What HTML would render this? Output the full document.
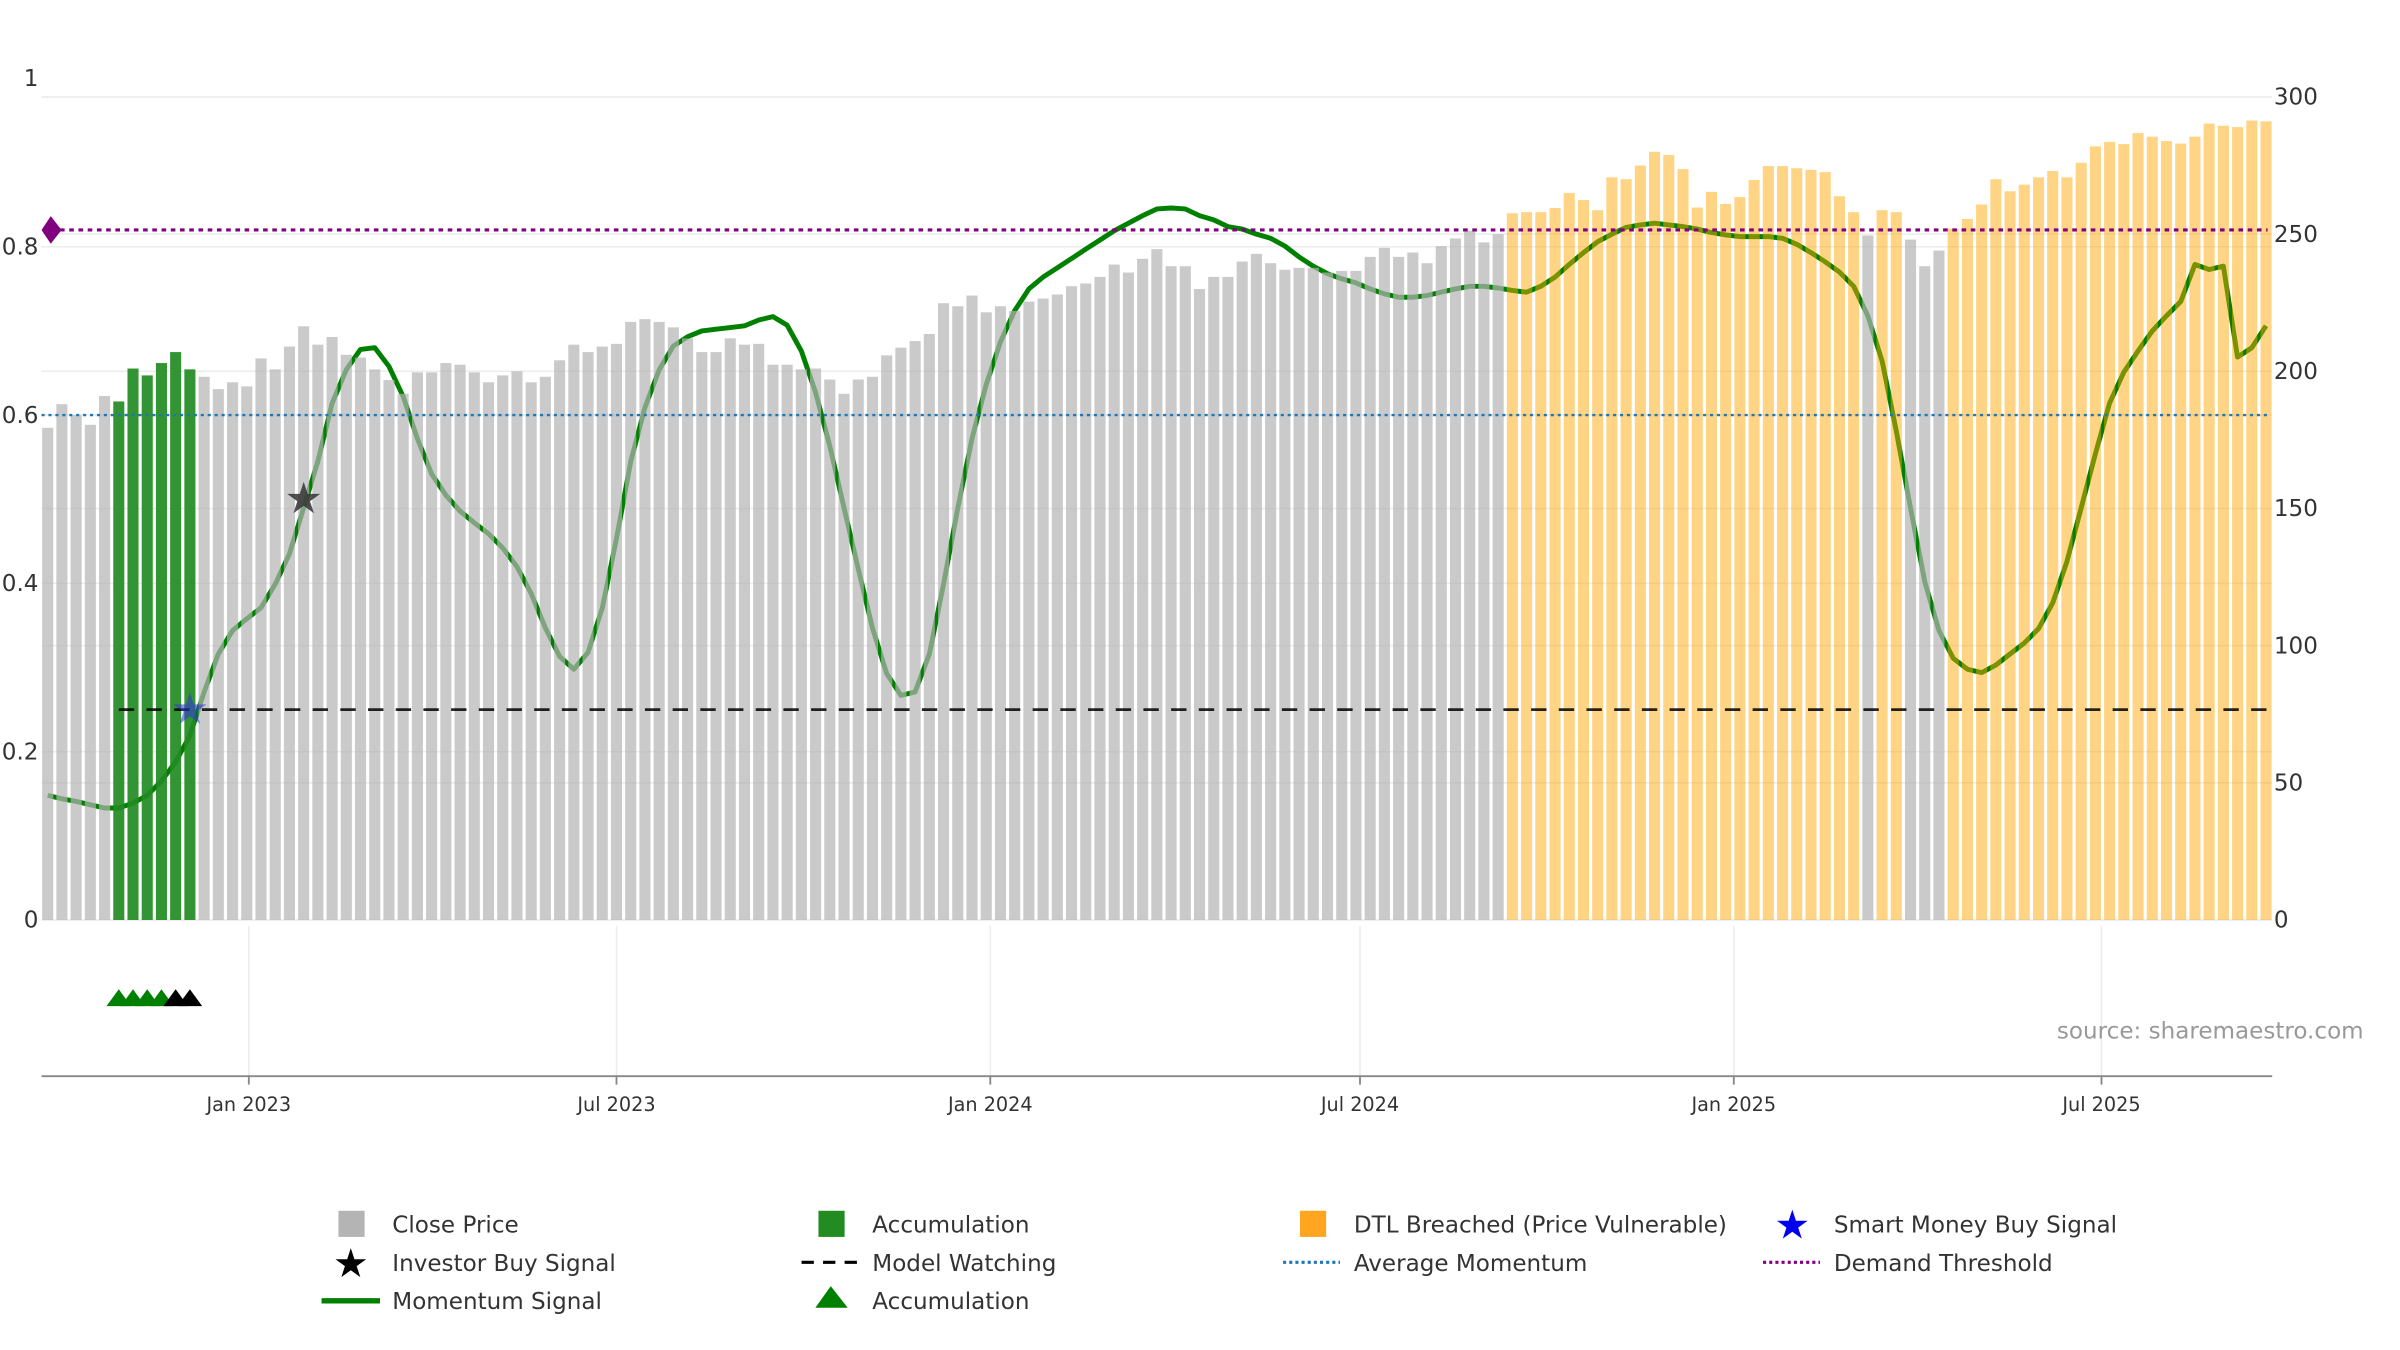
<!DOCTYPE html>
<html><head><meta charset="utf-8"><style>
html,body{margin:0;padding:0;background:#fff}
svg{display:block;font-family:"DejaVu Sans","Liberation Sans",sans-serif}
</style></head><body>
<svg id="chart" width="2400" height="1350" viewBox="0 0 1560 877.5" xmlns="http://www.w3.org/2000/svg">
<g id="grid"></g>
<g id="line"></g>
<g id="bars"></g>
<g id="refs"></g>
<g id="marks"></g>
<g id="axes"></g>
<text x="1337" y="675" font-size="15" fill="#999">source: sharemaestro.com</text>
<g id="legend">
 <rect x="220" y="787" width="17" height="17" fill="#b4b4b4"/>
 <text x="255" y="801" font-size="15" fill="#333">Close Price</text>
 <rect x="532" y="787" width="17" height="17" fill="#228b22"/>
 <text x="567" y="801" font-size="15" fill="#333">Accumulation</text>
 <rect x="845" y="787" width="17" height="17" fill="#ffa520"/>
 <text x="880" y="801" font-size="15" fill="#333">DTL Breached (Price Vulnerable)</text>
 <text x="1165" y="805" font-size="26" fill="#0000ee" text-anchor="middle">★</text>
 <text x="1192" y="801" font-size="15" fill="#333">Smart Money Buy Signal</text>
 <text x="228" y="830" font-size="26" fill="#000" text-anchor="middle">★</text>
 <text x="255" y="826" font-size="15" fill="#333">Investor Buy Signal</text>
 <line x1="521" y1="820.5" x2="558" y2="820.5" stroke="#000" stroke-width="2" stroke-dasharray="8,6"/>
 <text x="567" y="826" font-size="15" fill="#333">Model Watching</text>
 <line x1="834" y1="820.5" x2="871" y2="820.5" stroke="#1f77b4" stroke-width="2" stroke-dasharray="2,2"/>
 <text x="880" y="826" font-size="15" fill="#333">Average Momentum</text>
 <line x1="1146" y1="820.5" x2="1183" y2="820.5" stroke="#800080" stroke-width="2" stroke-dasharray="2,2"/>
 <text x="1192" y="826" font-size="15" fill="#333">Demand Threshold</text>
 <line x1="209" y1="845.5" x2="247" y2="845.5" stroke="#008000" stroke-width="3.5"/>
 <text x="255" y="851" font-size="15" fill="#333">Momentum Signal</text>
 <polygon points="530,850 540,836 551,850" fill="#008000"/>
 <text x="567" y="851" font-size="15" fill="#333">Accumulation</text>
</g>
</svg>
<script>
const NS="http://www.w3.org/2000/svg";
// ---- data ----
const startDate="2022-09-24";
const prices=[179.4,188,184,180.5,191,189,201,198.5,203,207,200.7,198,193.5,196,194.5,204.7,200.7,209,216.4,209.7,
212.5,206,205,200.7,196.8,191.8,199.6,199.6,203,202.4,199.6,196,198.5,200,196,198,204,209.7,207,209,
210,218,219,218,216,212,207,207,212,209.7,210,202.4,202.4,200.7,201,197,191.8,197,198,205.8,
208.6,211,213.6,224.8,223.7,227.6,221.5,223.7,222,225.4,226.5,228,231,232,234.4,238.9,236,241,244.5,238.3,
238.3,230,234.4,234.4,240,242.8,239.4,237,237.7,237.7,236,236.6,236.6,241.7,245,241.7,243.3,239.4,245.6,248.4,
251.2,247,250,
257.6,258,258,259.5,265,262.4,258.7,270.7,270,275,280,278.8,273.7,259.7,265.4,261,263.5,269.7,274.8,274.8,274,273.4,272.6,263.8,258,
249.5,258.7,258,248,238.3,244,
252,255.5,260.8,270,265.6,268,270.7,273,270.7,276,282,283.6,282.8,286.8,285.5,283.9,283,285.5,290.3,289.5,289,291.4,291.1];
const accumIdx=[5,6,7,8,9,10];
const dtlIdx=[103,104,105,106,107,108,109,110,111,112,113,114,115,116,117,118,119,120,121,122,123,124,125,126,127,129,130,
134,135,136,137,138,139,140,141,142,143,144,145,146,147,148,149,150,151,152,153,154,155,156];
const momentum=[.148,.144,.141,.137,.133,.133,.139,.148,.165,.188,.219,.271,.316,.344,.358,.371,.399,.435,.490,.545,
.614,.654,.678,.680,.658,.622,.572,.530,.505,.486,.472,.459,.442,.420,.388,.347,.313,.298,.318,.371,
.453,.545,.609,.654,.682,.693,.700,.702,.704,.706,.713,.717,.707,.676,.627,.563,.490,.417,.347,.293,
.267,.271,.316,.399,.490,.572,.636,.687,.724,.750,.764,.775,.786,.797,.808,.819,.828,.837,.845,.846,
.845,.837,.832,.824,.821,.815,.810,.801,.788,.777,.768,.762,.757,.750,.744,.740,.740,.742,.746,.750,
.753,.753,.751,.748,.746,.753,.764,.779,.793,.806,.815,.823,.826,.828,.826,.824,.821,.817,.814,.812,
.812,.812,.810,.803,.793,.782,.770,.753,.718,.664,.581,.490,.402,.344,.311,.298,.294,.303,.316,.329,
.346,.377,.426,.490,.554,.614,.651,.676,.700,.718,.735,.779,.773,.777,.669,.680,.706];
const avgMomentum=0.6, demandThreshold=0.82, modelWatching=0.25;
const accTriIdx=[5,6,7,8], modelTriIdx=[9,10];
const investorIdx=[18], smartIdx=[10], smartVal=[0.25], investorVal=[0.5];
const leftTicks=[0,0.2,0.4,0.6,0.8,1], leftLabels=["0","0.2","0.4","0.6","0.8","1"];
const rightTicks=[0,50,100,150,200,250,300];
const dateTicks=["2023-01-01","2023-07-01","2024-01-01","2024-07-01","2025-01-01","2025-07-01"];
const dateLabels=["Jan 2023","Jul 2023","Jan 2024","Jul 2024","Jan 2025","Jul 2025"];
// ---- scales ----
const X0=31, PPD=239/181, Y0=598, LH=547, RH=535;
const d0=new Date(startDate+"T00:00:00Z").getTime();
const xDate=s=>X0+(new Date(s+"T00:00:00Z").getTime()-d0)/864e5*PPD;
const xIdx=i=>X0+i*7*PPD;
const yL=v=>Y0-v*LH;
const yR=v=>Y0-v/300*RH;
const XEND=xIdx(prices.length-1)+4;
function mk(p,t,a){const e=document.createElementNS(NS,t);for(const k in a)e.setAttribute(k,a[k]);p.appendChild(e);return e;}
const G=id=>document.getElementById(id);
// grid
leftTicks.filter(t=>t<1).forEach(t=>{const l=mk(G('grid'),'line',{x1:27,x2:XEND,y1:yL(t),y2:yL(t),stroke:'#ececec','stroke-width':1});

});
rightTicks.forEach(t=>{const l=mk(G('grid'),'line',{x1:27,x2:XEND,y1:yR(t),y2:yR(t),stroke:'#ececec','stroke-width':1});

});
dateTicks.forEach(d=>{const l=mk(G('grid'),'line',{x1:xDate(d),x2:xDate(d),y1:602,y2:699,stroke:'#ececec','stroke-width':1});

});
// momentum line
const pts=momentum.map((v,i)=>xIdx(i).toFixed(1)+","+yL(v).toFixed(1)).join(" ");
const ml=mk(G('line'),'polyline',{points:pts,fill:'none',stroke:'#008000','stroke-width':3.2,'stroke-linejoin':'round'});


// bars
prices.forEach((p,i)=>{
 let fill='#b4b4b4',op=0.7,nm='bar-close';
 if(accumIdx.includes(i)){fill='#228b22';op=0.92;nm='bar-accumulation';}
 else if(dtlIdx.includes(i)){fill='#ffa500';op=0.48;nm='bar-dtl-breached';}
 const r=mk(G('bars'),'rect',{x:xIdx(i)-3.6,y:yR(p),width:7.2,height:Y0-yR(p),fill:fill,'fill-opacity':op});
 
 
});
// reference lines
const lastX=xIdx(prices.length-1)+1;
let r1=mk(G('refs'),'line',{x1:27,x2:lastX,y1:yL(avgMomentum),y2:yL(avgMomentum),stroke:'#1f77b4','stroke-width':1.6,'stroke-dasharray':'2,2.5'});


let r2=mk(G('refs'),'line',{x1:33,x2:lastX,y1:yL(demandThreshold),y2:yL(demandThreshold),stroke:'#800080','stroke-width':2,'stroke-dasharray':'3,3'});


let r3=mk(G('refs'),'line',{x1:xIdx(5),x2:lastX,y1:yL(modelWatching),y2:yL(modelWatching),stroke:'#000','stroke-width':1.8,'stroke-dasharray':'10,8','stroke-opacity':0.85});


let dm=mk(G('refs'),'polygon',{points:`${27},${yL(demandThreshold)} ${33},${yL(demandThreshold)-9} ${40},${yL(demandThreshold)} ${33},${yL(demandThreshold)+9}`,fill:'#800080'});


// markers
function tri(i,c,nm){const x=xIdx(i);const t=mk(G('marks'),'polygon',{points:`${x-8},654 ${x},643 ${x+8},654`,fill:c});

}
accTriIdx.forEach(i=>tri(i,'#008000','accumulation-triangle'));
modelTriIdx.forEach(i=>tri(i,'#000','model-watching-triangle'));
function star(i,v,c,op,nm){const t=mk(G('marks'),'text',{x:xIdx(i),y:yL(v)+9,'font-size':28,'text-anchor':'middle',fill:c,'fill-opacity':op});
t.textContent='★';

}
investorIdx.forEach((i,k)=>star(i,investorVal[k],'#333',0.85,'investor-buy-star'));
smartIdx.forEach((i,k)=>star(i,smartVal[k],'#3030e0',0.55,'smart-money-star'));
// axes
let ax=mk(G('axes'),'line',{x1:27,x2:XEND,y1:699.5,y2:699.5,stroke:'#888','stroke-width':1.2});


leftTicks.forEach((t,k)=>{const e=mk(G('axes'),'text',{x:25,y:yL(t)+5,'font-size':15,'text-anchor':'end',fill:'#333'});
e.textContent=leftLabels[k];

});
rightTicks.forEach(t=>{const e=mk(G('axes'),'text',{x:1478,y:yR(t)+5,'font-size':15,fill:'#333'});
e.textContent=String(t);

});
dateTicks.forEach((d,k)=>{const x=xDate(d);
const tk=mk(G('axes'),'line',{x1:x,x2:x,y1:699,y2:705,stroke:'#888','stroke-width':1.2});


const e=mk(G('axes'),'text',{x:x,y:722,'font-size':12.5,'text-anchor':'middle',fill:'#333'});
e.textContent=dateLabels[k];

});
</script>
</body></html>
